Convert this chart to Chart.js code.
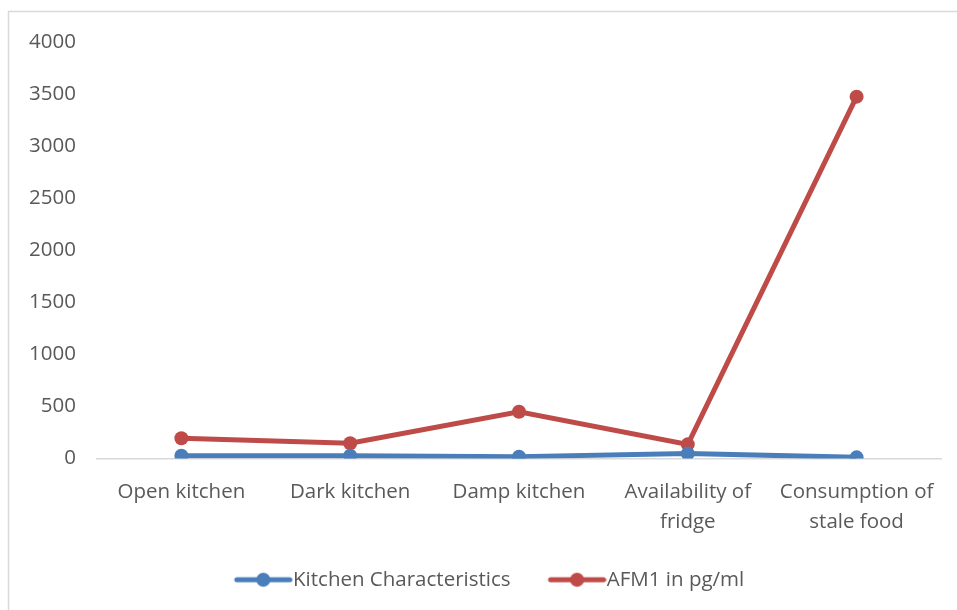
<!DOCTYPE html>
<html>
<head>
<meta charset="utf-8">
<script src="https://cdn.jsdelivr.net/npm/chart.js@4/dist/chart.umd.min.js"></script>
<style>
  html, body { margin: 0; padding: 0; background: #ffffff; }
  #wrap { position: relative; width: 957px; height: 610px; }
</style>
</head>
<body>
<div id="wrap"><canvas id="chart" width="957" height="610"></canvas></div>
<script>
// Kitchen factors and measured values
const categories = [
  'Open kitchen',
  'Dark kitchen',
  'Damp kitchen',
  ['Availability of', 'fridge'],
  ['Consumption of', 'stale food']
];
const kitchenCharacteristics = [26, 26, 18, 47, 11];
const afm1PgPerMl = [195, 147, 449, 136, 3475];
const yTicks = [0, 500, 1000, 1500, 2000, 2500, 3000, 3500, 4000];

const BLUE = '#4a7ebb';
const RED = '#be4b48';
const TEXT = '#595959';
const FONT = "'Open Sans', 'DejaVu Sans', sans-serif";
const FONT_SIZE = 20.5;

// Legend marker: a short thick line with a dot in the middle, drawn on the right part of the image
function legendMarker(color) {
  const c = document.createElement('canvas');
  c.width = 96; c.height = 16;
  const g = c.getContext('2d');
  g.strokeStyle = color;
  g.lineWidth = 5;
  g.lineCap = 'round';
  g.beginPath();
  g.moveTo(40, 8); g.lineTo(93, 8);
  g.stroke();
  g.fillStyle = color;
  g.beginPath();
  g.arc(66.5, 8, 7, 0, Math.PI * 2);
  g.fill();
  return c;
}
const markers = [legendMarker(BLUE), legendMarker(RED)];

// Thin frame along the left and top edges
const framePlugin = {
  id: 'frame',
  beforeDraw(chart) {
    const ctx = chart.ctx;
    ctx.save();
    ctx.strokeStyle = '#d9d9d9';
    ctx.lineWidth = 1.5;
    ctx.beginPath();
    ctx.moveTo(8.5, 610);
    ctx.lineTo(8.5, 11.5);
    ctx.lineTo(957, 11.5);
    ctx.stroke();
    ctx.restore();
  }
};

new Chart(document.getElementById('chart'), {
  type: 'line',
  data: {
    labels: categories,
    datasets: [
      {
        label: 'Kitchen Characteristics',
        data: kitchenCharacteristics,
        borderColor: BLUE,
        backgroundColor: BLUE,
        borderWidth: 5,
        pointRadius: 7,
        pointHoverRadius: 7,
        pointBorderWidth: 0,
        tension: 0
      },
      {
        label: 'AFM1 in pg/ml',
        data: afm1PgPerMl,
        borderColor: RED,
        backgroundColor: RED,
        borderWidth: 5,
        pointRadius: 7,
        pointHoverRadius: 7,
        pointBorderWidth: 0,
        tension: 0
      }
    ]
  },
  options: {
    responsive: false,
    animation: false,
    devicePixelRatio: 1,
    layout: { padding: { left: 10, right: 16, top: 42, bottom: 10 } },
    plugins: {
      tooltip: { enabled: false },
      legend: {
        position: 'bottom',
        labels: {
          color: TEXT,
          font: { family: FONT, size: FONT_SIZE },
          usePointStyle: true,
          pointStyleWidth: 76,
          boxHeight: 16,
          padding: 10,
          generateLabels(chart) {
            return chart.data.datasets.map((ds, i) => ({
              text: ds.label,
              fontColor: TEXT,
              pointStyle: markers[i],
              datasetIndex: i,
              hidden: false,
              lineWidth: 0,
              strokeStyle: 'transparent',
              fillStyle: 'transparent'
            }));
          }
        }
      }
    },
    scales: {
      x: {
        offset: true,
        grid: { display: false, drawTicks: false, offset: true },
        border: { display: true, color: '#d9d9d9', width: 1.5 },
        ticks: {
          color: TEXT,
          font: { family: FONT, size: FONT_SIZE, lineHeight: 1.46 },
          padding: 19,
          maxRotation: 0,
          autoSkip: false
        },
        afterFit(scale) { scale.height = 101; }
      },
      y: {
        min: 0,
        max: 4000,
        afterBuildTicks(scale) { scale.ticks = yTicks.map(v => ({ value: v })); },
        grid: { display: false, drawTicks: false },
        border: { display: false },
        ticks: {
          color: TEXT,
          font: { family: FONT, size: FONT_SIZE },
          padding: 21,
          callback: (v) => String(v)
        },
        afterFit(scale) { scale.width = 87; }
      }
    }
  },
  plugins: [framePlugin]
});
</script>
</body>
</html>
